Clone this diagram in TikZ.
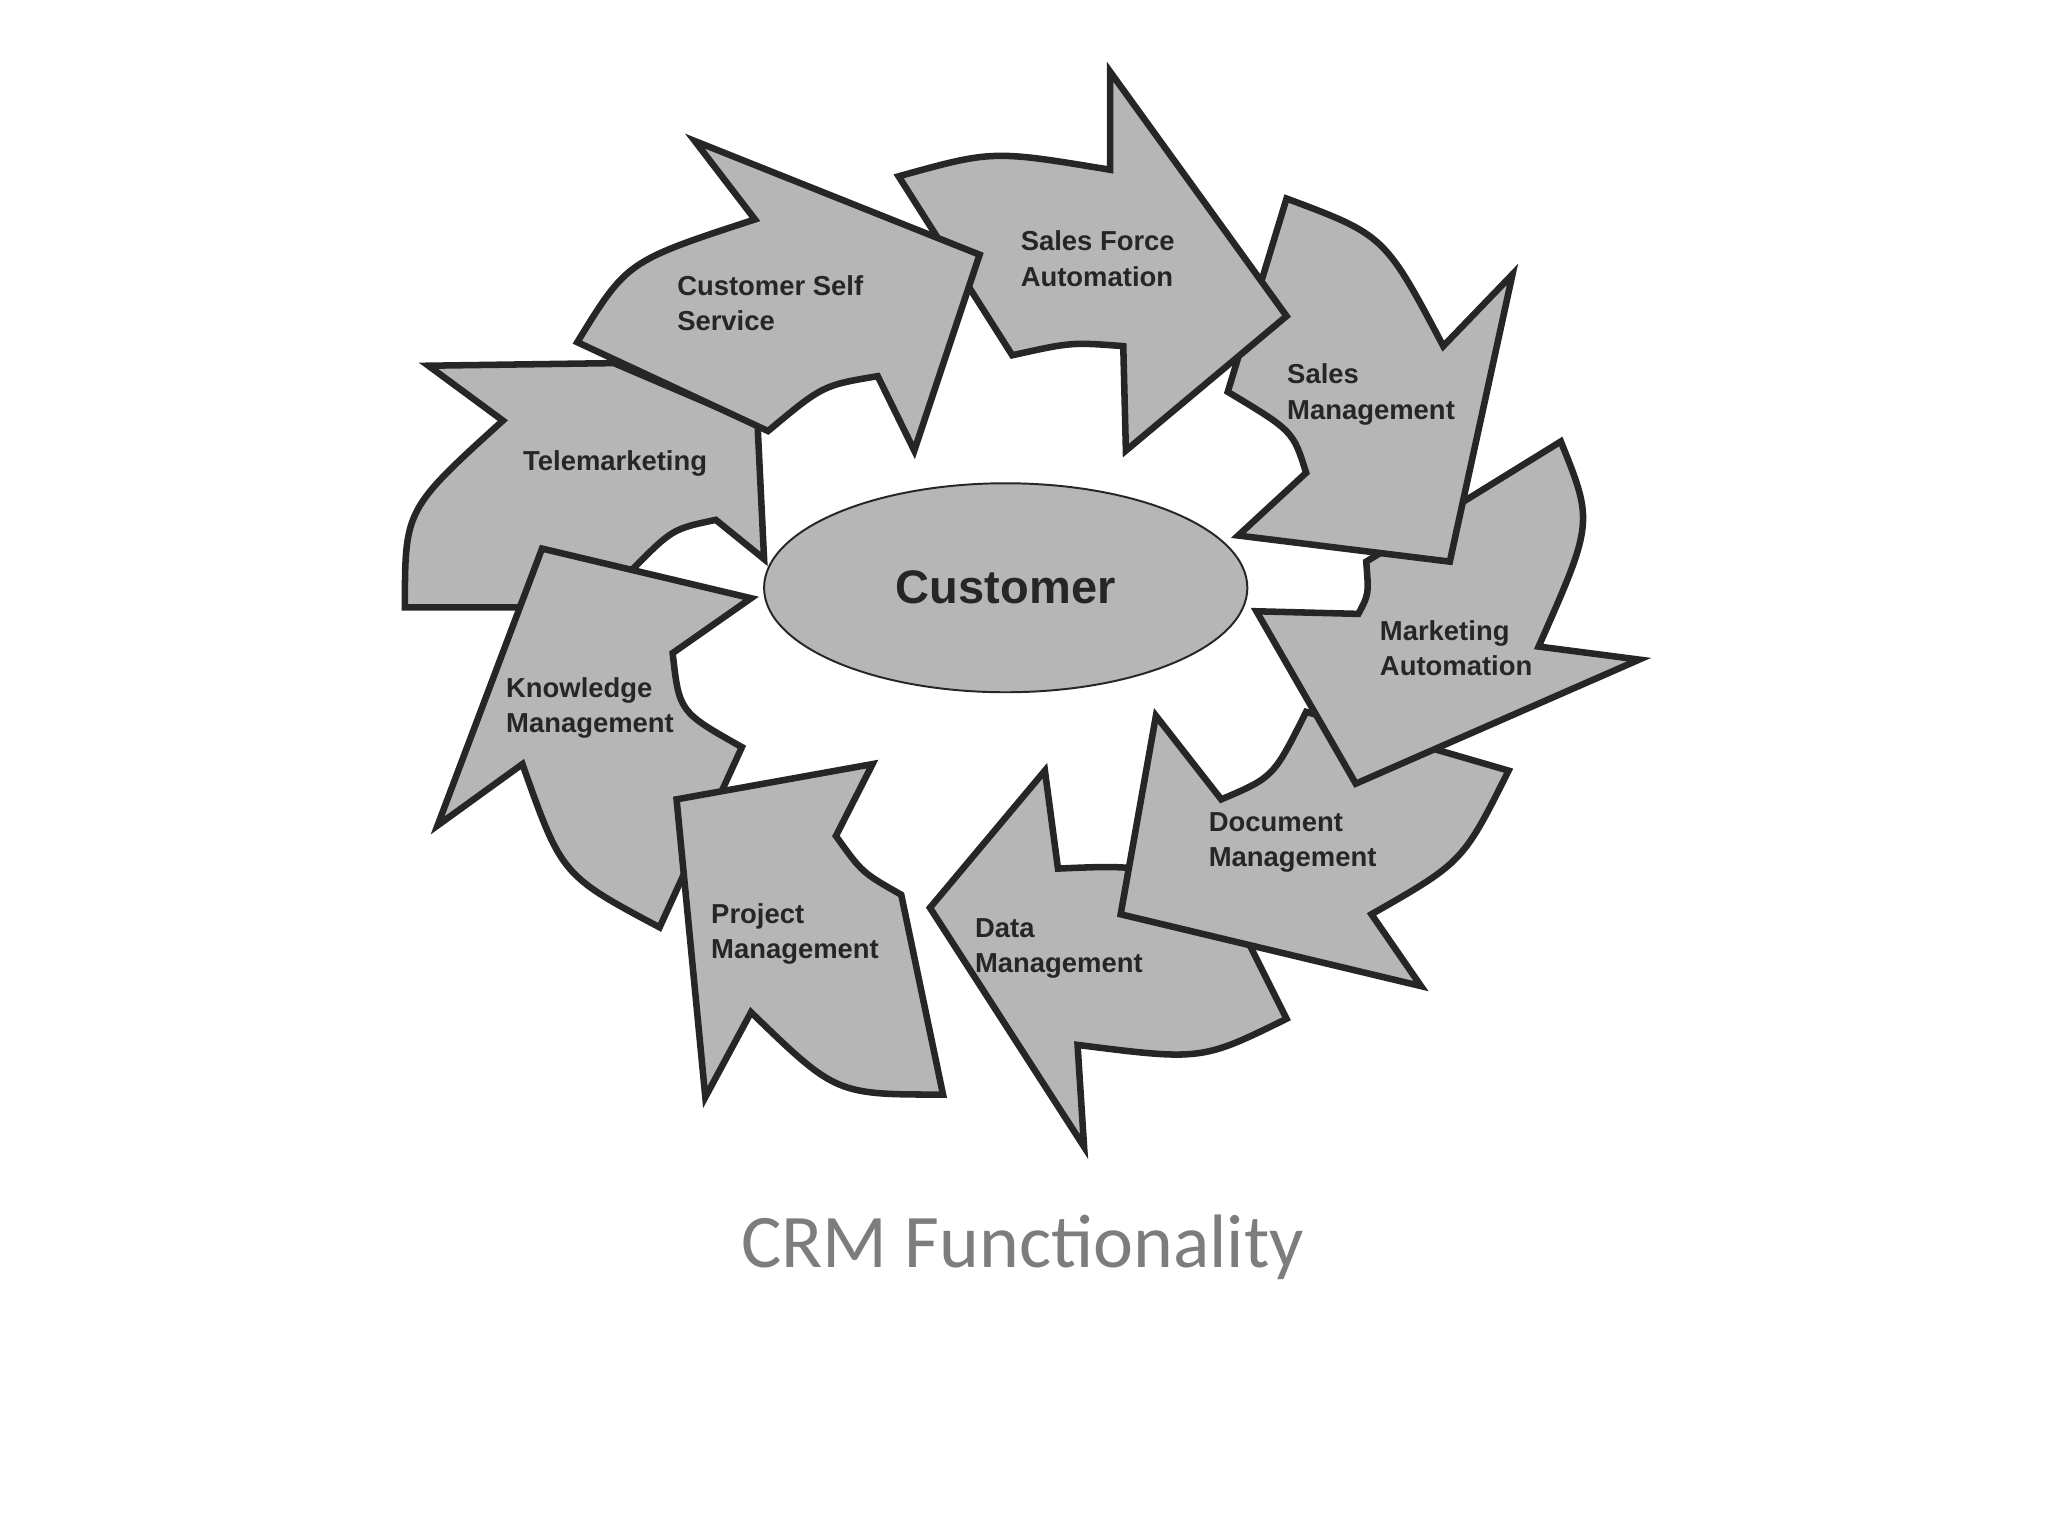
\documentclass[tikz,border=0pt]{standalone}
\usepackage{fontspec}
\setmainfont{Liberation Sans}
\newfontfamily\capfont{Carlito}
\usetikzlibrary{shapes.geometric}
\definecolor{arrfill}{RGB}{182,182,182}
\definecolor{arrline}{RGB}{38,38,38}
\definecolor{capgray}{RGB}{125,125,125}
\begin{document}
\begin{tikzpicture}[x=1pt,y=-1pt,
  blk/.style={fill=arrfill,draw=arrline,line width=5pt,line join=miter},
  lbl/.style={anchor=west,align=left,text=arrline,font=\bfseries\fontsize{21}{27}\selectfont}]
\useasboundingbox (0,0) rectangle (1568,1176);
% arrows, drawn so that each head lies over the next tail
\draw[blk] (328,280) -- (470,278) -- (580,325) -- (585,428) -- (548,398)
  .. controls (515,405) .. (485,435) -- (470,465) -- (310,465)
  .. controls (310,390) .. (385,322) -- cycle; % telemarketing
\draw[blk] (505,710) .. controls (430,670) .. (400,585) -- (335,632) -- (415,420)
  -- (575,458) -- (515,500) .. controls (520,545) .. (568,572) -- cycle; % knowledge
\draw[blk] (722,838) .. controls (640,838) .. (575,775) -- (540,840) -- (518,612)
  -- (668,585) -- (640,640) .. controls (660,668) .. (690,685) -- cycle; % project
\draw[blk] (985,780) .. controls (920,812) .. (825,800) -- (830,878) -- (712,695)
  -- (800,590) -- (810,665) .. controls (880,662) .. (945,700) -- cycle; % data
\draw[blk] (1155,590) .. controls (1120,660) .. (1050,700) -- (1088,755) -- (858,700)
  -- (885,548) -- (935,612) .. controls (975,595) .. (1000,545) -- cycle; % document
\draw[blk] (1195,338) .. controls (1220,400) .. (1178,495) -- (1255,505) -- (1038,600)
  -- (962,468) -- (1040,470) .. controls (1048,455) .. (1046,430) -- cycle; % marketing
\draw[blk] (985,152) .. controls (1060,180) .. (1105,265) -- (1158,210) -- (1110,430)
  -- (948,410) -- (1000,362) .. controls (990,330) .. (940,300) -- cycle; % sales mgmt
\draw[blk] (688,135) .. controls (760,115) .. (850,130) -- (850,55) -- (985,242)
  -- (862,345) -- (860,265) .. controls (820,262) .. (775,272) -- cycle; % sales force
\draw[blk] (442,262) .. controls (480,200) .. (578,168) -- (532,108) -- (750,195)
  -- (700,345) -- (672,288) .. controls (630,295) .. (588,330) -- cycle; % self service
% centre
\node[ellipse,draw=arrline,line width=1.5pt,fill=arrfill,minimum width=370,minimum height=160,
  font=\bfseries\fontsize{36}{40}\selectfont,text=arrline] (customer) at (770,450) {Customer};
% labels
\node[lbl] (sfa) at (778,198) {Sales Force\\Automation};
\node[lbl] (css) at (515,232) {Customer Self\\Service};
\node[lbl] (sm)  at (982,302) {Sales\\Management};
\node[lbl] (tm)  at (397,355) {Telemarketing};
\node[lbl] (ma)  at (1053,496) {Marketing\\Automation};
\node[lbl] (km)  at (384,542) {Knowledge\\Management};
\node[lbl] (dcm) at (922,645) {Document\\Management};
\node[lbl] (pm)  at (541,715) {Project\\Management};
\node[lbl] (dm)  at (743,726) {Data\\Management};
% caption
\node[text=capgray,font=\capfont\fontsize{58}{64}\selectfont] (cap) at (783,955) {CRM Functionality};
\end{tikzpicture}
\end{document}
